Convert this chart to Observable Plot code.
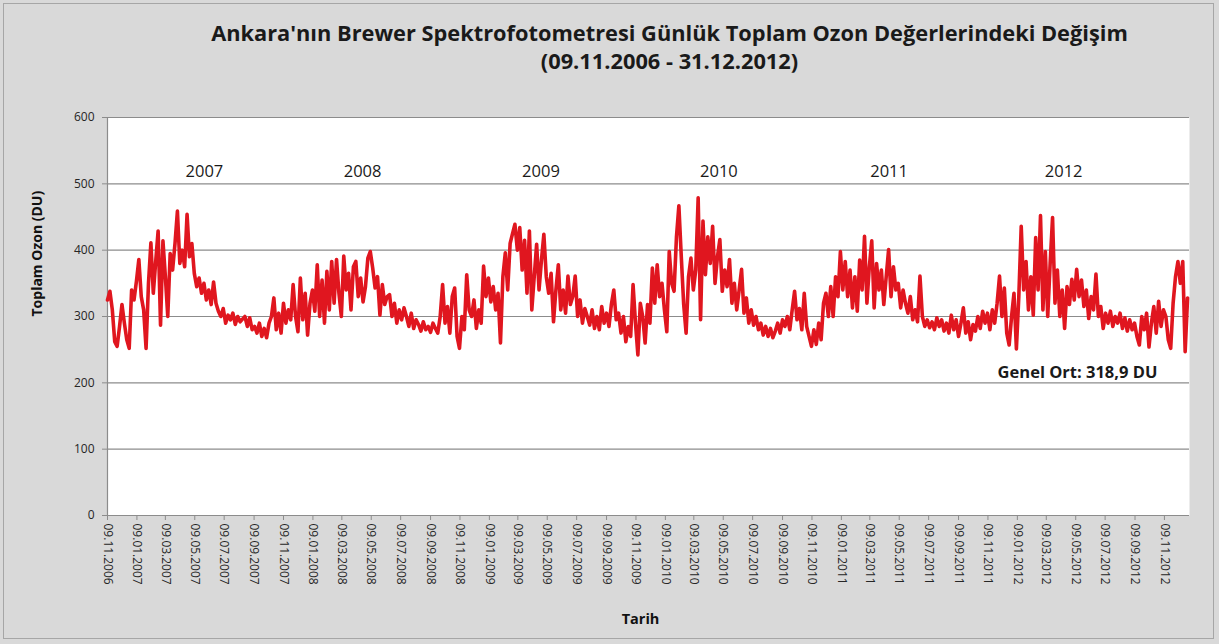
<!DOCTYPE html>
<html>
<head>
<meta charset="utf-8">
<script src="https://cdn.jsdelivr.net/npm/d3@7"></script>
<script src="https://cdn.jsdelivr.net/npm/@observablehq/plot@0.6"></script>
<style>
  html, body { margin: 0; padding: 0; background: #d9d9d9; }
  #wrap { position: relative; width: 1219px; height: 644px; background: #d9d9d9; overflow: hidden; }
  #border { position: absolute; left: 3px; top: 3px; width: 1211px; height: 636px; border: 1px solid #a6a6a6; box-sizing: border-box; pointer-events: none; }
  #title { height: 90px; box-sizing: border-box; padding-top: 19px; padding-left: 120px; text-align: center;
           font-family: "Open Sans", "Noto Sans", sans-serif; font-weight: 700; font-size: 21.8px; line-height: 28px; color: #1a1a1a; }
  #chart svg { display: block; }
</style>
</head>
<body>
<div id="wrap">
  <div id="title">Ankara'nın Brewer Spektrofotometresi Günlük Toplam Ozon Değerlerindeki Değişim<br>(09.11.2006 - 31.12.2012)</div>
  <div id="chart"></div>
  <div id="border"></div>
</div>
<script>
// ---- data (one value every 5 days from 09.11.2006) ----
const seriesStart = "2006-11-09";
const seriesEnd = "2012-12-31";
const stepDays = 5;
const ozoneDU = [
  325, 338, 310, 262, 255, 285, 318, 290, 265, 252,
  340, 325, 353, 386, 330, 310, 252, 350, 411, 335,
  383, 429, 287, 414, 360, 300, 395, 370, 410, 459,
  380, 400, 375, 454, 390, 410, 365, 345, 358, 335,
  350, 325, 340, 318, 352, 320, 308, 300, 312, 290,
  302, 295, 305, 288, 300, 292, 296, 300, 285, 298,
  280, 285, 275, 290, 270, 282, 268, 290, 300, 328,
  280, 305, 275, 320, 290, 310, 295, 348, 300, 277,
  358, 295, 335, 272, 320, 340, 308, 378, 300, 355,
  290, 368, 310, 383, 320, 386, 335, 300, 391, 340,
  365, 310, 375, 383, 330, 358, 322, 345, 388, 398,
  373, 343, 360, 302, 348, 318, 330, 333, 300, 320,
  290, 310, 295, 313, 300, 285, 305, 282, 295, 288,
  278, 292, 280, 285, 276, 290, 282, 275, 300, 348,
  290, 315, 275, 330, 343, 270, 252, 300, 280, 363,
  310, 300, 325, 282, 310, 290, 376, 330, 358, 322,
  345, 310, 335, 260, 360, 396, 340, 410, 425, 439,
  400, 434, 370, 415, 335, 429, 310, 360, 409, 340,
  385, 424, 360, 335, 365, 292, 340, 378, 310, 340,
  305, 361, 318, 330, 361, 300, 325, 290, 312, 300,
  287, 310, 282, 300, 280, 315, 290, 305, 285, 318,
  340, 295, 305, 275, 300, 262, 285, 270, 348, 290,
  242, 320, 300, 260, 318, 290, 373, 320, 378, 330,
  350, 310, 277, 398, 350, 338, 420, 467, 390, 318,
  275, 360, 388, 340, 370, 479, 295, 444, 363, 420,
  380, 436, 350, 390, 416, 338, 370, 345, 386, 320,
  350, 310, 340, 371, 305, 328, 290, 310, 287, 300,
  280, 290, 272, 285, 270, 282, 268, 278, 290, 275,
  295, 285, 300, 280, 310, 338, 295, 312, 280, 335,
  285, 270, 255, 280, 258, 290, 265, 320, 335, 300,
  345, 300, 360, 330, 398, 340, 383, 330, 370, 313,
  360, 308, 385, 340, 421, 320, 375, 414, 313, 380,
  340, 370, 318, 360, 401, 330, 375, 340, 350, 313,
  340, 320, 305, 330, 295, 310, 292, 361, 300, 285,
  295, 283, 292, 280, 298, 285, 295, 278, 290, 275,
  302, 280, 295, 270, 290, 313, 275, 292, 265, 288,
  278, 300, 282, 308, 290, 305, 280, 310, 290, 320,
  361, 300, 343, 275, 257, 300, 335, 251, 330, 436,
  340, 383, 310, 360, 302, 419, 340, 452, 310, 398,
  300, 380, 449, 320, 370, 300, 340, 282, 345, 318,
  356, 325, 371, 330, 355, 315, 340, 297, 330, 310,
  364, 300, 315, 282, 305, 290, 308, 285, 300, 290,
  305, 282, 298, 278, 295, 280, 290, 270, 257, 300,
  280, 305, 254, 290, 315, 275, 323, 285, 310, 300,
  265, 252, 320, 360, 383, 350, 383, 247, 328
];
const xTickLabels = [
  "09.11.2006","09.01.2007","09.03.2007","09.05.2007","09.07.2007","09.09.2007",
  "09.11.2007","09.01.2008","09.03.2008","09.05.2008","09.07.2008","09.09.2008",
  "09.11.2008","09.01.2009","09.03.2009","09.05.2009","09.07.2009","09.09.2009",
  "09.11.2009","09.01.2010","09.03.2010","09.05.2010","09.07.2010","09.09.2010",
  "09.11.2010","09.01.2011","09.03.2011","09.05.2011","09.07.2011","09.09.2011",
  "09.11.2011","09.01.2012","09.03.2012","09.05.2012","09.07.2012","09.09.2012",
  "09.11.2012"
];
const yTicks = [0, 100, 200, 300, 400, 500, 600];
const yearLabels = ["2007", "2008", "2009", "2010", "2011", "2012"];
const yearLabelDates = ["2007-05-29", "2008-04-21", "2009-04-26", "2010-04-30", "2011-04-18", "2012-04-14"];
const yearLabelValue = 519;
const meanLabel = "Genel Ort: 318,9 DU";
const meanLabelDate = "2011-11-29";
const meanLabelValue = 216;
const yAxisTitle = "Toplam Ozon (DU)";
const xAxisTitle = "Tarih";

// ---- build tables ----
const parseISO = d3.utcParse("%Y-%m-%d");
const parseDMY = d3.utcParse("%d.%m.%Y");
const fmtDMY = d3.utcFormat("%d.%m.%Y");
const t0 = parseISO(seriesStart);
const series = ozoneDU.map((v, i) => ({date: d3.utcDay.offset(t0, i * stepDays), value: v}));
const tickDates = xTickLabels.map(parseDMY);
const years = yearLabels.map((label, i) => ({label, date: parseISO(yearLabelDates[i]), value: yearLabelValue}));
const xDomain = [t0, parseISO(seriesEnd)];

const font = "'Open Sans', 'Noto Sans', sans-serif";
const chart = Plot.plot({
  width: 1219,
  height: 554,
  marginTop: 27,
  marginLeft: 107,
  marginRight: 30,
  marginBottom: 129,
  style: {background: "transparent", fontFamily: font, fontSize: "12px", color: "#262626"},
  x: {type: "utc", domain: xDomain},
  y: {domain: [0, 600]},
  marks: [
    Plot.frame({fill: "white", stroke: null}),
    Plot.gridY(yTicks, {stroke: "#8c8c8c", strokeOpacity: 1, strokeWidth: 1.2}),
    Plot.ruleX([xDomain[0]], {stroke: "#8c8c8c", strokeWidth: 1.2}),
    Plot.ruleY([0], {stroke: "#8c8c8c", strokeWidth: 1.2}),
    Plot.axisY({ticks: yTicks, tickSize: 5, tickPadding: 8, label: null, stroke: "#8c8c8c", fill: "#262626"}),
    Plot.axisX({ticks: tickDates, tickFormat: fmtDMY, tickRotate: 90, tickSize: 5, tickPadding: 3, label: null, stroke: "#8c8c8c", fill: "#262626"}),
    Plot.line(series, {x: "date", y: "value", stroke: "#e0161f", strokeWidth: 3.6, strokeLinejoin: "round"}),
    Plot.text(years, {x: "date", y: "value", text: "label", fontSize: 16.5, fill: "#1a1a1a"}),
    Plot.text([meanLabel], {x: parseISO(meanLabelDate), y: meanLabelValue, text: d => d, textAnchor: "start", fontSize: 16.5, fontWeight: "bold", fill: "#1a1a1a"}),
    Plot.text([yAxisTitle], {frameAnchor: "left", dx: -70, rotate: -90, text: d => d, fontSize: 14, fontWeight: "bold", fill: "#111"}),
    Plot.text([xAxisTitle], {frameAnchor: "bottom", dx: -8, dy: 108, text: d => d, fontSize: 14.5, fontWeight: "bold", fill: "#111"})
  ]
});
document.getElementById("chart").appendChild(chart);
</script>
</body>
</html>
